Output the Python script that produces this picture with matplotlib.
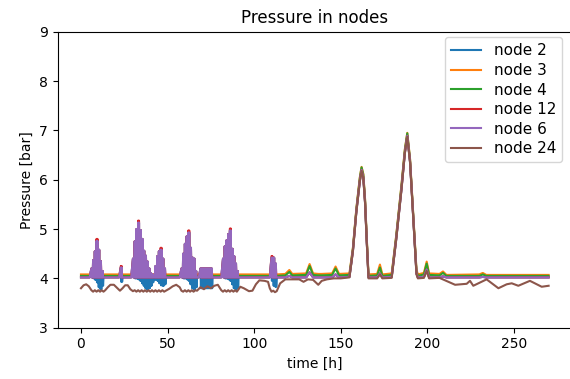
import matplotlib
matplotlib.use("Agg")
import matplotlib.pyplot as plt

# ---- data -------------------------------------------------------------
# Breakpoints shared by the smooth part of the series (hours)
late_t = [0, 113, 118, 120.3, 122, 130, 132, 134, 137, 139, 145, 147, 149,
          155, 157, 159, 161, 162, 163, 164, 165, 166, 171, 172.6, 174,
          179.4, 182, 185, 187, 188.4, 190, 192, 193.7, 194.5, 198, 199.6,
          201, 207, 209, 211, 230, 232, 234, 270]

node3_late = [4.08, 4.08, 4.09, 4.17, 4.09, 4.10, 4.29, 4.10, 4.09, 4.09, 4.10,
              4.24, 4.09, 4.10, 4.62, 5.42, 6.05, 6.26, 6.12, 5.62, 4.82, 4.08,
              4.09, 4.28, 4.08, 4.10, 4.87, 5.88, 6.62, 6.95, 6.42, 5.20, 4.18,
              4.08, 4.11, 4.34, 4.10, 4.09, 4.14, 4.07, 4.08, 4.11, 4.07, 4.07]

node4_late = [4.05, 4.05, 4.06, 4.13, 4.06, 4.07, 4.25, 4.07, 4.06, 4.06, 4.07,
              4.20, 4.06, 4.07, 4.60, 5.40, 6.03, 6.25, 6.10, 5.60, 4.80, 4.05,
              4.06, 4.22, 4.05, 4.07, 4.85, 5.86, 6.60, 6.94, 6.40, 5.18, 4.15,
              4.05, 4.08, 4.30, 4.07, 4.06, 4.11, 4.05, 4.05, 4.08, 4.05, 4.05]

node6_late = [4.02, 4.02, 4.02, 4.05, 4.02, 4.02, 4.12, 4.02, 4.02, 4.02, 4.02,
              4.08, 4.02, 4.03, 4.56, 5.36, 5.98, 6.20, 6.05, 5.55, 4.75, 4.02,
              4.02, 4.10, 4.02, 4.03, 4.80, 5.80, 6.55, 6.89, 6.36, 5.12, 4.10,
              4.02, 4.03, 4.18, 4.02, 4.02, 4.04, 4.02, 4.02, 4.03, 4.02, 4.02]

# Hours in which nodes 2, 6 and 12 cycle: upper and lower readings per hour
burst_t = [5, 6, 7, 8, 9, 10, 11, 12, 13,
           22, 23, 24,
           29, 30, 31, 32, 33, 34, 35, 36, 37, 38, 39, 40, 41, 42, 43, 44, 45,
           46, 47, 48, 49,
           57, 58, 59, 60, 61, 62, 63, 64, 65, 66, 67,
           68, 69, 70, 71, 72, 73, 74, 75, 76,
           81, 82, 83, 84, 85, 86, 87, 88, 89, 90, 91,
           109, 110, 111, 112, 113]

node6_hi = [4.02, 4.20, 4.37, 4.55, 4.76, 4.58, 4.35, 4.15, 4.02,
            4.02, 4.22, 4.02,
            4.02, 4.40, 4.75, 5.00, 5.13, 4.98, 4.80, 4.56, 4.46, 4.34, 4.20,
            4.10, 4.08, 4.05, 4.25, 4.45, 4.55, 4.58, 4.40, 4.20, 4.02,
            4.02, 4.20, 4.50, 4.70, 4.85, 4.93, 4.62, 4.42, 4.40, 4.15, 4.02,
            4.02, 4.20, 4.20, 4.20, 4.20, 4.20, 4.20, 4.20, 4.02,
            4.02, 4.40, 4.65, 4.77, 4.90, 4.97, 4.60, 4.45, 4.30, 4.15, 4.02,
            4.02, 4.42, 4.42, 4.30, 4.02]

node6_lo = [4.02] * len(burst_t)

node12_hi = [4.02, 4.20, 4.37, 4.55, 4.80, 4.58, 4.35, 4.15, 4.02,
             4.02, 4.25, 4.02,
             4.02, 4.40, 4.75, 5.00, 5.17, 4.98, 4.80, 4.56, 4.46, 4.34, 4.20,
             4.10, 4.08, 4.05, 4.25, 4.45, 4.55, 4.62, 4.40, 4.20, 4.02,
             4.02, 4.20, 4.50, 4.70, 4.85, 4.97, 4.62, 4.42, 4.40, 4.15, 4.02,
             4.02, 4.20, 4.20, 4.20, 4.20, 4.20, 4.20, 4.20, 4.02,
             4.02, 4.40, 4.65, 4.77, 4.90, 5.01, 4.60, 4.45, 4.30, 4.15, 4.02,
             4.02, 4.45, 4.42, 4.30, 4.02]

node2_lo = [4.02, 4.02, 4.00, 3.97, 3.92, 3.82, 3.78, 3.85, 4.02,
            4.02, 3.93, 4.02,
            4.02, 4.02, 4.00, 4.00, 3.98, 3.95, 3.90, 3.85, 3.80, 3.78, 3.80,
            3.85, 3.92, 3.97, 3.98, 3.95, 3.90, 3.86, 3.85, 3.88, 4.02,
            4.02, 4.02, 4.00, 4.00, 3.98, 3.95, 3.88, 3.80, 3.78, 3.82, 4.02,
            4.02, 3.80, 3.80, 3.80, 3.80, 3.80, 3.80, 3.80, 4.02,
            4.02, 4.02, 4.00, 4.00, 3.98, 3.95, 3.88, 3.80, 3.78, 3.82, 4.02,
            4.02, 3.95, 3.85, 3.83, 4.02]

node24_t = [0, 1.5, 3, 4.5, 6, 7, 8, 9, 10, 11, 12, 13, 14, 15.5, 17, 19, 21,
            22.5, 24, 25.5, 27, 28.5, 30, 31, 32, 33, 34, 35, 36, 37, 38, 39,
            40, 41, 42, 43, 44, 45, 46, 47, 48, 49, 51, 53, 55, 57, 58, 59, 60,
            61, 62, 63, 64, 65, 66, 67, 69, 71, 73, 75, 77, 79, 81, 82, 83, 84,
            85, 86, 87, 88, 89, 90, 91, 92, 94, 97, 99, 101, 103, 106, 108, 109,
            110, 111, 112, 113, 115, 118, 122, 126, 128.5, 131, 134, 137, 139,
            142, 146, 150, 155, 157, 159, 161, 162, 163, 164, 165, 166, 171,
            172.6, 174, 179.4, 182, 185, 187, 188.4, 190, 192, 193.7, 194.5,
            198, 199.6, 201, 207, 216, 222.7, 224.6, 226.5, 234.2, 241, 245.8,
            248.7, 252.5, 259.2, 266, 270]

node24 = [3.80, 3.86, 3.88, 3.84, 3.76, 3.73, 3.76, 3.73, 3.76, 3.73, 3.76,
          3.73, 3.76, 3.82, 3.87, 3.87, 3.80, 3.75, 3.80, 3.86, 3.86, 3.78,
          3.74, 3.76, 3.73, 3.76, 3.73, 3.76, 3.73, 3.76, 3.73, 3.76, 3.73,
          3.76, 3.73, 3.76, 3.73, 3.76, 3.73, 3.76, 3.73, 3.75, 3.79, 3.84,
          3.87, 3.82, 3.75, 3.73, 3.76, 3.73, 3.76, 3.73, 3.76, 3.73, 3.76,
          3.75, 3.82, 3.78, 3.84, 3.80, 3.85, 3.87, 3.76, 3.73, 3.76, 3.73,
          3.76, 3.73, 3.76, 3.73, 3.76, 3.73, 3.78, 3.83, 3.80, 3.74, 3.75,
          3.88, 3.96, 3.95, 3.93, 3.80, 3.73, 3.75, 3.72, 3.74, 3.90, 3.98,
          3.98, 3.98, 3.93, 3.98, 3.97, 3.87, 3.95, 3.98, 4.00, 4.00, 4.02,
          4.54, 5.34, 5.96, 6.18, 6.03, 5.53, 4.73, 4.00, 4.00, 4.08, 4.00,
          4.01, 4.78, 5.78, 6.53, 6.87, 6.34, 5.10, 4.08, 4.00, 4.01, 4.15,
          4.00, 4.01, 3.87, 3.89, 3.95, 3.85, 3.98, 3.80, 3.88, 3.90, 3.85,
          3.95, 3.83, 3.85]


def cycling(hours, upper, lower):
    """Trace a node that swings between its upper and lower reading twice per hour."""
    t, p = [], []
    for h, hi, lo in zip(hours, upper, lower):
        if hi == lo:
            t.append(h)
            p.append(hi)
        else:
            t += [h, h + 0.25, h + 0.5, h + 0.75]
            p += [hi, lo, hi, lo]
    return t, p


def merged(extra_t, extra_p):
    pts = sorted(zip(late_t + extra_t, node6_late + extra_p), key=lambda q: q[0])
    return [q[0] for q in pts], [q[1] for q in pts]


n6_t, n6_p = merged(*cycling(burst_t, node6_hi, node6_lo))
n2_t, n2_p = merged(*cycling(burst_t, node6_hi, node2_lo))
n12_t, n12_p = merged(*cycling(burst_t, node12_hi, node6_lo))

# ---- figure -----------------------------------------------------------
fig = plt.figure(figsize=(5.70, 3.79), dpi=100)
ax = fig.add_axes([57.6 / 570, 51.3 / 379, 514.4 / 570, 296.0 / 379])

ax.plot(n2_t, n2_p, label="node 2")
ax.plot(late_t, node3_late, label="node 3")
ax.plot(late_t, node4_late, label="node 4")
ax.plot(n12_t, n12_p, label="node 12")
ax.plot(n6_t, n6_p, label="node 6")
ax.plot(node24_t, node24, label="node 24")

ax.set_xlim(-13.5, 283.5)
ax.set_ylim(3, 9)
ax.set_xticks([0, 50, 100, 150, 200, 250])
ax.set_yticks([3, 4, 5, 6, 7, 8, 9])
ax.spines["right"].set_visible(False)  # falls at the very edge of the canvas
ax.set_title("Pressure in nodes", fontsize=12)
ax.set_xlabel("time [h]")
ax.set_ylabel("Pressure [bar]")
ax.legend(loc="upper right", bbox_to_anchor=(0.9806, 0.981), borderaxespad=0,
          fontsize=11, labelspacing=0.3)

fig.savefig("out.png", dpi=100)
